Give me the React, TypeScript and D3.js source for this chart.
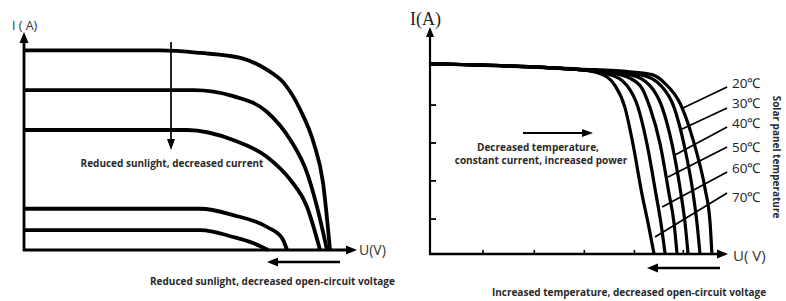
import React, { useRef, useEffect } from "react";
import * as d3 from "d3";

type Pt = [number, number];

// left panel: I-V curves for decreasing sunlight (arbitrary units 0..100)
const sunCurves: Pt[][] = [
  [[0, 92], [41, 92], [53, 90.8], [65, 88.5], [73, 83], [78, 77], [83, 64.5], [87, 49.3], [89.8, 31], [91.9, 0]],
  [[0, 73.7], [51, 73.7], [62.8, 70.9], [73, 63.6], [80, 50.7], [85, 35.5], [88, 19.8], [91, 0]],
  [[0, 55.3], [49, 55.3], [62.8, 50.7], [73, 42.9], [80, 32.3], [85, 19.8], [88.9, 0]],
  [[0, 19], [53, 19], [62.8, 16.1], [73, 10.6], [77.5, 5.5], [79, 0]],
  [[0, 9.2], [53, 9.2], [62.8, 6], [68.8, 3.2], [73.3, 0]],
];

// right panel: I-V curves for panel temperatures 20..70 °C
const tempLabels = ["20℃", "30℃", "40℃", "50℃", "60℃", "70℃"];
const tempCurves: Pt[][] = [
  [[0, 83.8], [50.3, 81.5], [67.1, 80.3], [74.5, 79], [78.9, 75.1], [83.9, 66.4], [87.2, 55], [89.6, 44.1], [92.3, 28.8], [94, 13.5], [94.6, 0]],
  [[0, 83.8], [50.3, 81.2], [70.5, 79], [77.5, 74.2], [81.9, 64.6], [85.2, 48.5], [88.3, 26.6], [89.6, 13.5], [90.6, 0]],
  [[0, 83.8], [50.3, 81.2], [67.1, 79], [73.8, 74.2], [77.9, 64.6], [81.2, 48.5], [84.2, 26.6], [85.6, 13.5], [86.6, 0]],
  [[0, 83.8], [50.3, 81.2], [63.8, 79], [70.5, 74.2], [73.8, 64.6], [77.2, 48.5], [80.2, 26.6], [81.9, 13.5], [82.9, 0]],
  [[0, 83.8], [50.3, 81.2], [60.4, 79], [66.1, 74.2], [69.8, 64.6], [72.8, 48.5], [75.8, 26.6], [77.5, 13.5], [78.9, 0]],
  [[0, 83.8], [50.3, 81.2], [57, 79.5], [62.1, 74.2], [65.4, 64.6], [68.1, 48.5], [71.1, 26.6], [73.2, 13.5], [75.2, 0]],
];
// leader lines from each label to its curve
const leaderStart = [73.6, 64.3, 55.9, 47.1, 36.1, 26.9];
const leaderEnd: Pt[] = [[84.9, 64.3], [83.9, 54.6], [82.2, 43.6], [79.9, 33.9], [77.9, 20.7], [75.5, 7.5]];
const labelLevel = [75.3, 66.5, 57.7, 47.1, 37.9, 25.1];

const rightXTicks = [17.8, 35, 51.8, 68.6, 85];
const rightYTicks = [65.6, 48.9, 32.2, 15.4];

const App: React.FC = () => {
  const svgRef = useRef<SVGSVGElement | null>(null);

  useEffect(() => {
    if (!svgRef.current) return;
    const svg = d3.select(svgRef.current);
    svg.selectAll("*").remove();

    const font = "'Open Sans', sans-serif";
    const ink = "#000";
    const noteColor = "#2a2a2a";

    const arrowHead = (
      g: d3.Selection<SVGGElement, unknown, null, undefined>,
      tip: [number, number],
      dir: "up" | "down" | "left" | "right",
      len: number,
      half: number
    ) => {
      const [x, y] = tip;
      let pts: [number, number][] = [];
      if (dir === "up") pts = [[x, y], [x - half, y + len], [x + half, y + len]];
      if (dir === "down") pts = [[x, y], [x - half, y - len], [x + half, y - len]];
      if (dir === "left") pts = [[x, y], [x + len, y - half], [x + len, y + half]];
      if (dir === "right") pts = [[x, y], [x - len, y - half], [x - len, y + half]];
      g.append("path").attr("d", "M" + pts.join("L") + "Z").attr("fill", ink);
    };

    const note = (
      g: d3.Selection<SVGGElement, unknown, null, undefined>,
      x: number,
      y: number,
      txt: string,
      anchor = "start"
    ) =>
      g.append("text").attr("x", x).attr("y", y)
        .attr("text-anchor", anchor)
        .attr("font-family", font).attr("font-size", 10).attr("font-weight", 700)
        .attr("fill", noteColor)
        .text(txt);

    // ---------- left panel ----------
    const xL = d3.scaleLinear().domain([0, 100]).range([24, 357]);
    const yL = d3.scaleLinear().domain([0, 100]).range([250, 33]);
    const gL = svg.append("g");

    const lineL = d3
      .line<Pt>()
      .x((d) => xL(d[0]))
      .y((d) => yL(d[1]))
      .curve(d3.curveMonotoneX);

    gL.selectAll("path.curve")
      .data(sunCurves)
      .enter()
      .append("path")
      .attr("class", "curve")
      .attr("d", lineL)
      .attr("fill", "none")
      .attr("stroke", ink)
      .attr("stroke-width", 3.8);

    // axes
    gL.append("line")
      .attr("x1", xL(0)).attr("x2", xL(0))
      .attr("y1", yL(0) + 1).attr("y2", yL(100) + 8)
      .attr("stroke", ink).attr("stroke-width", 2.8);
    arrowHead(gL, [xL(0), yL(100) - 1], "up", 11, 4.5);
    gL.append("line")
      .attr("x1", xL(0) - 1).attr("x2", xL(100) - 8)
      .attr("y1", yL(0)).attr("y2", yL(0))
      .attr("stroke", ink).attr("stroke-width", 2.8);
    arrowHead(gL, [xL(100), yL(0)], "right", 11, 4.5);

    gL.append("text").attr("x", 12).attr("y", 30)
      .attr("font-family", font).attr("font-size", 12.5).attr("fill", "#333")
      .text("I ( A)");
    gL.append("text").attr("x", 359).attr("y", 255)
      .attr("font-family", font).attr("font-size", 14).attr("fill", "#333")
      .text("U(V)");

    // sunlight arrows + notes
    gL.append("line")
      .attr("x1", 171).attr("x2", 171).attr("y1", 42).attr("y2", 141)
      .attr("stroke", ink).attr("stroke-width", 1.7);
    arrowHead(gL, [171, 150], "down", 11, 4);
    note(gL, 172, 167, "Reduced sunlight, decreased current", "middle");

    gL.append("line")
      .attr("x1", 340).attr("x2", 276).attr("y1", 262).attr("y2", 262)
      .attr("stroke", ink).attr("stroke-width", 2.4);
    arrowHead(gL, [267, 262], "left", 11, 4.5);
    note(gL, 150, 285, "Reduced sunlight, decreased open-circuit voltage");

    // ---------- right panel ----------
    const xR = d3.scaleLinear().domain([0, 100]).range([430, 728]);
    const yR = d3.scaleLinear().domain([0, 100]).range([254, 27]);
    const gR = svg.append("g");

    const lineR = d3
      .line<Pt>()
      .x((d) => xR(d[0]))
      .y((d) => yR(d[1]))
      .curve(d3.curveMonotoneX);

    gR.selectAll("path.curve")
      .data(tempCurves)
      .enter()
      .append("path")
      .attr("class", "curve")
      .attr("d", lineR)
      .attr("fill", "none")
      .attr("stroke", ink)
      .attr("stroke-width", 3.2);

    // axes
    gR.append("line")
      .attr("x1", xR(0)).attr("x2", xR(0))
      .attr("y1", yR(0) + 1).attr("y2", yR(100) + 8)
      .attr("stroke", ink).attr("stroke-width", 2.2);
    arrowHead(gR, [xR(0), yR(100)], "up", 10, 4);
    gR.append("line")
      .attr("x1", xR(0) - 1).attr("x2", xR(100) - 8)
      .attr("y1", yR(0)).attr("y2", yR(0))
      .attr("stroke", ink).attr("stroke-width", 2.4);
    arrowHead(gR, [xR(100), yR(0)], "right", 11, 4.5);

    gR.selectAll("line.xt")
      .data(rightXTicks)
      .enter()
      .append("line")
      .attr("class", "xt")
      .attr("x1", (d) => xR(d)).attr("x2", (d) => xR(d))
      .attr("y1", yR(0)).attr("y2", yR(0) - 4)
      .attr("stroke", ink).attr("stroke-width", 1.6);
    gR.selectAll("line.yt")
      .data(rightYTicks)
      .enter()
      .append("line")
      .attr("class", "yt")
      .attr("x1", xR(0)).attr("x2", xR(0) + 6)
      .attr("y1", (d) => yR(d)).attr("y2", (d) => yR(d))
      .attr("stroke", ink).attr("stroke-width", 1.8);

    gR.append("text").attr("x", 410).attr("y", 25)
      .attr("font-family", "'Liberation Serif', serif").attr("font-size", 18).attr("fill", "#222")
      .text("I(A)");
    gR.append("text").attr("x", 733).attr("y", 261)
      .attr("font-family", font).attr("font-size", 15).attr("fill", "#333")
      .text("U( V)");

    // temperature leaders and labels
    gR.selectAll("line.lead")
      .data(leaderEnd)
      .enter()
      .append("line")
      .attr("class", "lead")
      .attr("x1", xR(99.7)).attr("y1", (_, i) => yR(leaderStart[i]))
      .attr("x2", (d) => xR(d[0])).attr("y2", (d) => yR(d[1]))
      .attr("stroke", ink).attr("stroke-width", 1.7);
    gR.selectAll("text.temp")
      .data(tempLabels)
      .enter()
      .append("text")
      .attr("class", "temp")
      .attr("x", 732)
      .attr("y", (_, i) => yR(labelLevel[i]))
      .attr("dy", "0.35em")
      .attr("font-family", font).attr("font-size", 13.5).attr("fill", "#222")
      .text((d) => d);

    gR.append("text")
      .attr("transform", "translate(773,157) rotate(90)")
      .attr("text-anchor", "middle")
      .attr("font-family", font).attr("font-size", 10).attr("font-weight", 700).attr("fill", noteColor)
      .text("Solar panel temperature");

    // temperature arrows + notes
    gR.append("line")
      .attr("x1", 523).attr("x2", 583).attr("y1", 133).attr("y2", 133)
      .attr("stroke", ink).attr("stroke-width", 1.9);
    arrowHead(gR, [593, 133], "right", 11, 4);
    note(gR, 538, 151, "Decreased temperature,", "middle");
    note(gR, 541, 164, "constant current, increased power", "middle");

    gR.append("line")
      .attr("x1", 720).attr("x2", 656).attr("y1", 268).attr("y2", 268)
      .attr("stroke", ink).attr("stroke-width", 2.4);
    arrowHead(gR, [647, 268], "left", 11, 4.5);
    note(gR, 629, 296, "Increased temperature, decreased open-circuit voltage", "middle");
  }, []);

  return (
    <div style={{ position: "fixed", left: 0, top: 0, background: "#fff" }}>
      <svg ref={svgRef} width={786} height={301} style={{ display: "block" }} />
    </div>
  );
};

export default App;
